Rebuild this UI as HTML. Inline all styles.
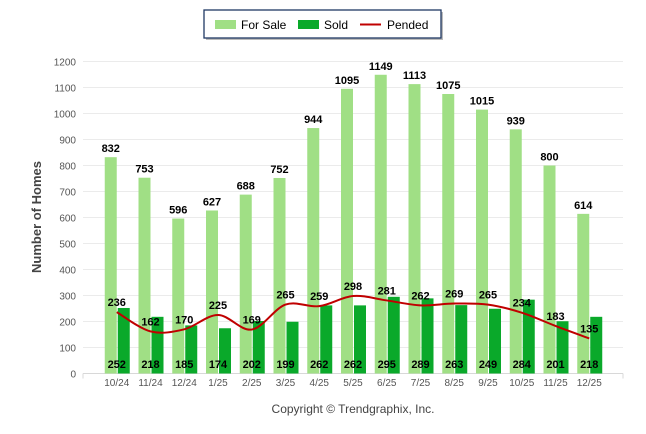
<!DOCTYPE html>
<html><head><meta charset="utf-8"><style>
body{margin:0;background:#fff;width:646px;height:434px;overflow:hidden;font-family:"Liberation Sans",Arial,sans-serif}
svg{display:block}
</style></head><body>
<svg id="c" width="646" height="434">
<g>
<rect x="206" y="12" width="237" height="28" fill="#bbb"/>
<rect x="204" y="10" width="237" height="28" fill="#fff" stroke="#1f3864" stroke-width="1.3"/>
<rect x="215" y="20" width="21" height="9" fill="#a0df85"/>
<text x="241" y="29" font-size="12">For Sale</text>
<rect x="298" y="20" width="21" height="9" fill="#0aa92a"/>
<text x="324" y="29" font-size="12">Sold</text>
<line x1="360" y1="24.5" x2="381" y2="24.5" stroke="#c00000" stroke-width="2"/>
<text x="387" y="29" font-size="12">Pended</text>
</g>
<text transform="translate(41,217) rotate(-90)" text-anchor="middle" font-size="13" font-weight="bold" fill="#444">Number of Homes</text>
<text x="353" y="413" text-anchor="middle" font-size="12" fill="#444">Copyright © Trendgraphix, Inc.</text>
<g id="plot"></g>
</svg>
<script>
const categories=["10/24","11/24","12/24","1/25","2/25","3/25","4/25","5/25","6/25","7/25","8/25","9/25","10/25","11/25","12/25"];
const forSale=[832,753,596,627,688,752,944,1095,1149,1113,1075,1015,939,800,614];
const sold=[252,218,185,174,202,199,262,262,295,289,263,249,284,201,218];
const pended=[236,162,170,225,169,265,259,298,281,262,269,265,234,183,135];
const yTicks=[0,100,200,300,400,500,600,700,800,900,1000,1100,1200];
const NS="http://www.w3.org/2000/svg";
const g=document.getElementById('plot');
const L=83,R=623,slot=33.75;
const y=v=>373.5-v*0.26;
const x=i=>L+slot*(i+1);
function mk(t,a,txt){const e=document.createElementNS(NS,t);for(const k in a)e.setAttribute(k,a[k]);if(txt!==undefined)e.textContent=txt;g.appendChild(e);return e;}
yTicks.forEach(v=>{
 const l=mk('line',{x1:L,x2:R,y1:y(v),y2:y(v),stroke:v===0?'#d8d8d8':'#ebebeb','stroke-width':1});
 
 
 const t=mk('text',{x:76,y:y(v)+4,'text-anchor':'end','font-size':10,fill:'#555'},v);
 
 
});
mk('line',{x1:L,x2:L,y1:y(0),y2:y(0)+5,stroke:'#d8d8d8'});
mk('line',{x1:R,x2:R,y1:y(0),y2:y(0)+5,stroke:'#d8d8d8'});
categories.forEach((c,i)=>{
 const cx=x(i);
 const b1=mk('rect',{x:cx-12,y:y(forSale[i]),width:12,height:y(0)-y(forSale[i]),fill:'#a0df85'});
 
 
 const b2=mk('rect',{x:cx+1,y:y(sold[i]),width:12,height:y(0)-y(sold[i]),fill:'#0aa92a'});
 
 
 const t=mk('text',{x:cx,y:386,'text-anchor':'middle','font-size':10,fill:'#555'},c);
 
 
 const l1=mk('text',{x:cx-6,y:y(forSale[i])-5,'text-anchor':'middle','font-size':11,'font-weight':'bold'},forSale[i]);
 
 
 const l2=mk('text',{x:cx,y:368,'text-anchor':'middle','font-size':11,'font-weight':'bold'},sold[i]);
 
 
});
// smooth pended line
const pts=pended.map((v,i)=>[x(i),y(v)]);
let d='M'+pts[0][0]+','+pts[0][1];
for(let i=0;i<pts.length-1;i++){
 const p0=pts[Math.max(0,i-1)],p1=pts[i],p2=pts[i+1],p3=pts[Math.min(pts.length-1,i+2)];
 const k=1/6;
 d+=' C'+(p1[0]+(p2[0]-p0[0])*k)+','+(p1[1]+(p2[1]-p0[1])*k)+' '+(p2[0]-(p3[0]-p1[0])*k)+','+(p2[1]-(p3[1]-p1[1])*k)+' '+p2[0]+','+p2[1];
}
const line=mk('path',{d:d,fill:'none',stroke:'#c00000','stroke-width':2});


pended.forEach((v,i)=>{
 const t=mk('text',{x:x(i),y:y(v)-6,'text-anchor':'middle','font-size':11,'font-weight':'bold'},v);
 
 
});
</script>
</body></html>
